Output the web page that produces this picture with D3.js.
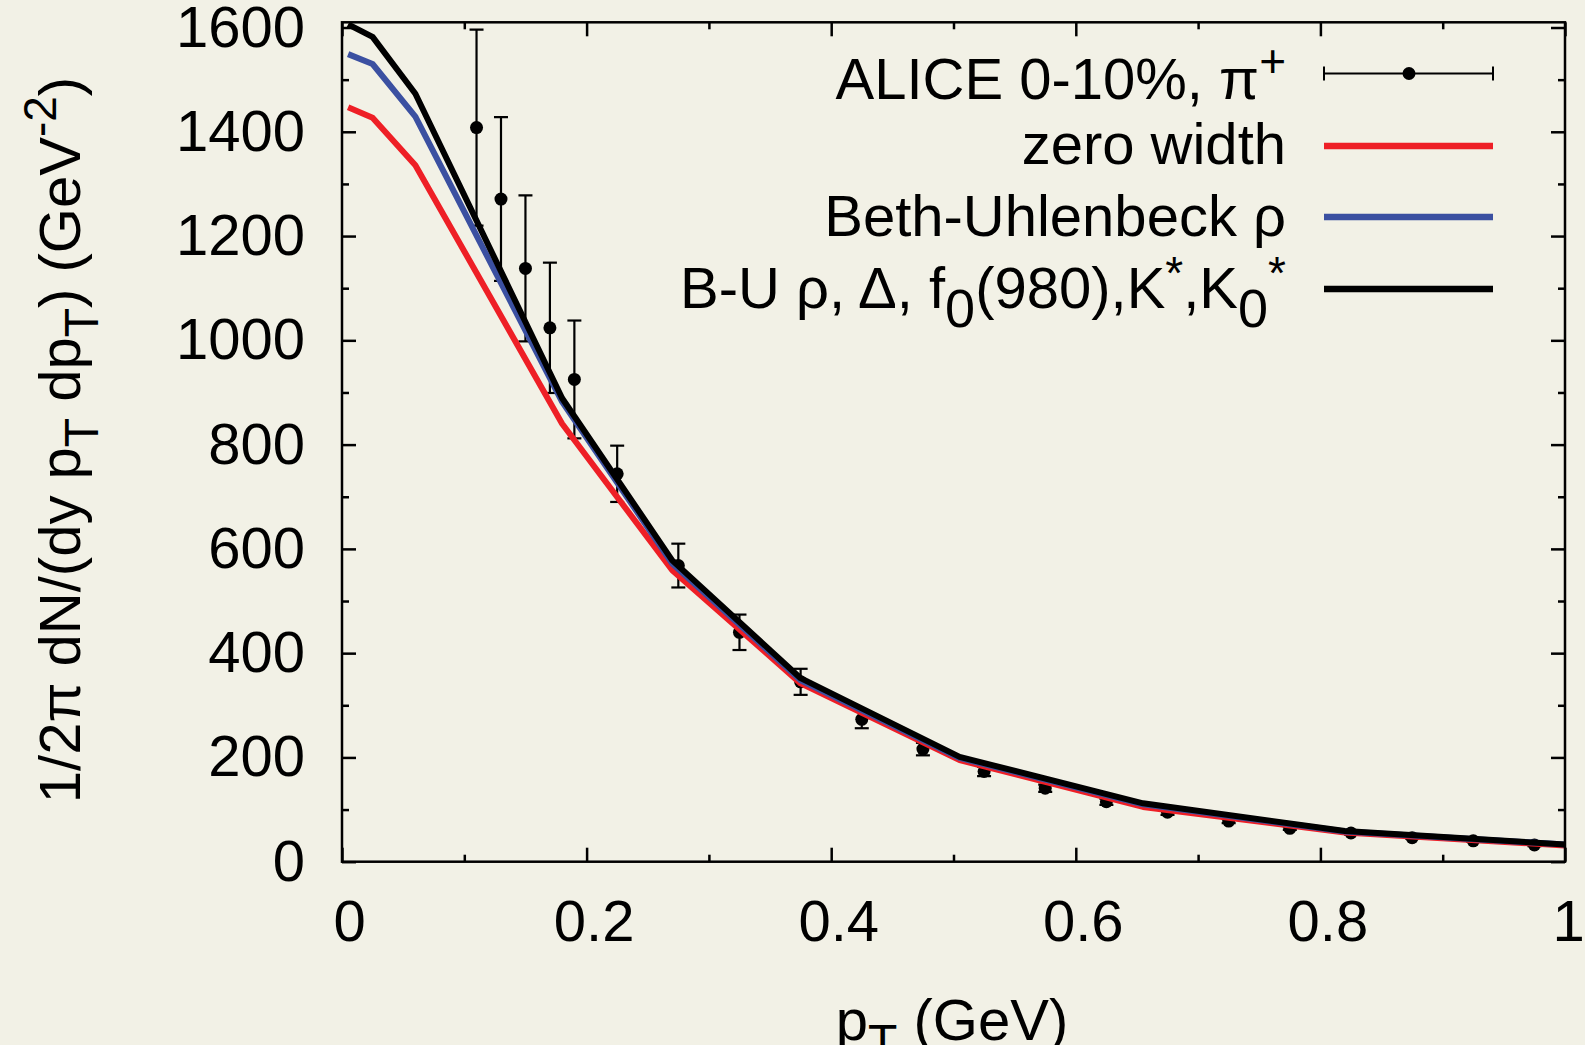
<!DOCTYPE html>
<html>
<head>
<meta charset="utf-8">
<script src="https://cdn.jsdelivr.net/npm/d3@7"></script>
<style>
  html, body { margin: 0; padding: 0; background: #f2f1e6; }
  svg { display: block; }
  text { font-family: "Liberation Sans", Arial, Helvetica, sans-serif; fill: #000; }
</style>
</head>
<body>
<svg id="chart" width="1585" height="1045"></svg>
<script>
// ---- data ----
const alicePt    = [0.11, 0.13, 0.15, 0.17, 0.19, 0.225, 0.275, 0.325, 0.375, 0.425, 0.475, 0.525, 0.575, 0.625, 0.675, 0.725, 0.775, 0.825, 0.875, 0.925, 0.975];
const aliceYield = [1408, 1271, 1138, 1024, 925, 744, 568, 440, 345, 273, 216, 173, 141, 115, 95, 78, 64, 55, 46, 40, 32];
const aliceErr   = [188, 157, 140, 125, 113, 54, 42, 34, 25, 17, 12, 9, 7, 6, 5, 4, 3, 3, 2, 2, 2];

const curvePt        = [0.005, 0.025, 0.06, 0.18, 0.27, 0.375, 0.505, 0.655, 0.82, 1.0];
const zeroWidth      = [1447, 1427, 1336, 840, 559, 342, 195, 105, 56, 31];
const bethUhlenbeck  = [1549, 1530, 1429, 882, 572, 348, 199, 110, 58, 33];
const buAll          = [1606, 1582, 1473, 889, 578, 352, 201, 112, 59, 33];

const xMajorTicks = [0, 0.2, 0.4, 0.6, 0.8, 1.0];
const xMinorTicks = [0.1, 0.3, 0.5, 0.7, 0.9];
const yMajorTicks = [0, 200, 400, 600, 800, 1000, 1200, 1400, 1600];
const yMinorTicks = [100, 300, 500, 700, 900, 1100, 1300, 1500];
const xTickLabels = ["0", "0.2", "0.4", "0.6", "0.8", "1"];

const seriesNames  = ["zero width", "Beth-Uhlenbeck ρ", "B-U"];
const seriesColors = ["#ee1f26", "#3b50a1", "#000000"];

// ---- layout ----
const W = 1585, H = 1045;
const L = 342, R = 1565, T = 22.3, B = 861.7;
const FS = 58;

const svg = d3.select("#chart");
svg.append("rect").attr("width", W).attr("height", H).attr("fill", "#f2f1e6");

const x = d3.scaleLinear().domain([0, 1]).range([L, R]);
const y = d3.scaleLinear().domain([0, 1610]).range([B, T]);

// ---- axes (ticks inward, mirrored) ----
function styleAxis(g) {
  g.select(".domain").remove();
  g.selectAll(".tick line").attr("stroke", "#000").attr("stroke-width", 2.5);
  g.selectAll(".tick text").attr("font-size", FS).attr("fill", "#000")
    .attr("font-family", '"Liberation Sans", Arial, sans-serif');
}
svg.append("g").attr("transform", `translate(0,${B})`)
  .call(d3.axisBottom(x).tickValues(xMajorTicks).tickSize(-14).tickSizeOuter(0).tickPadding(38)
    .tickFormat((d, i) => xTickLabels[i]))
  .call(styleAxis)
  .selectAll(".tick text").attr("dx", (d, i) => i === xTickLabels.length - 1 ? 3 : 7);
svg.append("g").attr("transform", `translate(0,${B})`)
  .call(d3.axisBottom(x).tickValues(xMinorTicks).tickSize(-7).tickSizeOuter(0).tickFormat(""))
  .call(styleAxis);
svg.append("g").attr("transform", `translate(0,${T})`)
  .call(d3.axisTop(x).tickValues(xMajorTicks).tickSize(-14).tickSizeOuter(0).tickFormat(""))
  .call(styleAxis);
svg.append("g").attr("transform", `translate(0,${T})`)
  .call(d3.axisTop(x).tickValues(xMinorTicks).tickSize(-7).tickSizeOuter(0).tickFormat(""))
  .call(styleAxis);

svg.append("g").attr("transform", `translate(${L},0)`)
  .call(d3.axisLeft(y).tickValues(yMajorTicks).tickSize(-14).tickSizeOuter(0).tickPadding(37)
    .tickFormat(d3.format("d")))
  .call(styleAxis);
svg.append("g").attr("transform", `translate(${L},0)`)
  .call(d3.axisLeft(y).tickValues(yMinorTicks).tickSize(-7).tickSizeOuter(0).tickFormat(""))
  .call(styleAxis);
svg.append("g").attr("transform", `translate(${R},0)`)
  .call(d3.axisRight(y).tickValues(yMajorTicks).tickSize(-14).tickSizeOuter(0).tickFormat(""))
  .call(styleAxis);
svg.append("g").attr("transform", `translate(${R},0)`)
  .call(d3.axisRight(y).tickValues(yMinorTicks).tickSize(-7).tickSizeOuter(0).tickFormat(""))
  .call(styleAxis);

// ---- clip ----
svg.append("clipPath").attr("id", "plotclip")
  .append("rect").attr("x", L).attr("y", T).attr("width", R - L).attr("height", B - T);
const plot = svg.append("g").attr("clip-path", "url(#plotclip)");

// ---- data points with error bars ----
const pts = alicePt.map((p, i) => ({ p, v: aliceYield[i], e: aliceErr[i] }));
const eb = plot.append("g").attr("stroke", "#000").attr("stroke-width", 2.2);
pts.forEach(d => {
  eb.append("line").attr("x1", x(d.p)).attr("x2", x(d.p)).attr("y1", y(d.v - d.e)).attr("y2", y(d.v + d.e));
  eb.append("line").attr("x1", x(d.p) - 7).attr("x2", x(d.p) + 7).attr("y1", y(d.v - d.e)).attr("y2", y(d.v - d.e));
  eb.append("line").attr("x1", x(d.p) - 7).attr("x2", x(d.p) + 7).attr("y1", y(d.v + d.e)).attr("y2", y(d.v + d.e));
});
plot.append("g").selectAll("circle").data(pts).join("circle")
  .attr("cx", d => x(d.p)).attr("cy", d => y(d.v)).attr("r", 6.5).attr("fill", "#000");

// ---- curves ----
const line = d3.line().x(d => x(d[0])).y(d => y(d[1]));
[zeroWidth, bethUhlenbeck, buAll].forEach((vals, k) => {
  plot.append("path")
    .datum(curvePt.map((p, i) => [p, vals[i]]))
    .attr("d", line).attr("fill", "none")
    .attr("stroke", seriesColors[k]).attr("stroke-width", 6)
    .attr("stroke-linejoin", "round").attr("stroke-linecap", "butt");
});

// ---- border ----
svg.append("rect").attr("x", L).attr("y", T).attr("width", R - L).attr("height", B - T)
  .attr("fill", "none").attr("stroke", "#000").attr("stroke-width", 2.5);

// ---- rich text helper ----
function rich(sel, parts, subSize = 48, subShift = 18) {
  let cur = 0;
  parts.forEach(([t, kind, raise]) => {
    let target = 0, size = FS;
    if (kind === "sup") { target = -(raise || 24); size = 46; }
    if (kind === "sub") { target = subShift; size = subSize; }
    sel.append("tspan").attr("dy", target - cur).attr("font-size", size).text(t);
    cur = target;
  });
}

// ---- legend ----
const LX1 = 1324, LX2 = 1493, TX = 1286;
const legendRows = [
  { ly: 73.5, ty: 99,  parts: [["ALICE 0-10%, π"], ["+", "sup", 22]] },
  { ly: 146,  ty: 164, parts: [[seriesNames[0]]] },
  { ly: 217,  ty: 236, parts: [[seriesNames[1]]] },
  { ly: 289,  ty: 308, parts: [["B-U ρ, Δ, f"], ["0", "sub"], ["(980),K"], ["*", "sup", 19], [",K"], ["0", "sub"], ["*", "sup", 19]] }
];
legendRows.forEach((r, i) => {
  const t = svg.append("text").attr("x", TX).attr("y", r.ty).attr("text-anchor", "end").attr("font-size", FS);
  rich(t, r.parts, 54, 19);
  if (i === 0) {
    const g = svg.append("g").attr("stroke", "#000").attr("stroke-width", 2);
    g.append("line").attr("x1", LX1).attr("x2", LX2).attr("y1", r.ly).attr("y2", r.ly);
    g.append("line").attr("x1", LX1).attr("x2", LX1).attr("y1", r.ly - 7).attr("y2", r.ly + 7);
    g.append("line").attr("x1", LX2).attr("x2", LX2).attr("y1", r.ly - 7).attr("y2", r.ly + 7);
    svg.append("circle").attr("cx", (LX1 + LX2) / 2 + 0.5).attr("cy", r.ly).attr("r", 6.5).attr("fill", "#000");
  } else {
    svg.append("line").attr("x1", LX1).attr("x2", LX2).attr("y1", r.ly).attr("y2", r.ly)
      .attr("stroke", seriesColors[i - 1]).attr("stroke-width", 6.5);
  }
});

// ---- axis titles ----
const xt = svg.append("text").attr("x", 952).attr("y", 1040).attr("text-anchor", "middle").attr("font-size", FS);
rich(xt, [["p"], ["T", "sub"], [" (GeV)"]]);

const yt = svg.append("text").attr("transform", "translate(80,440) rotate(-90)")
  .attr("text-anchor", "middle").attr("font-size", FS);
rich(yt, [["1/2π dN/(dy p"], ["T", "sub"], [" dp"], ["T", "sub"], [") (GeV"], ["-2", "sup"], [")"]]);
</script>
</body>
</html>
